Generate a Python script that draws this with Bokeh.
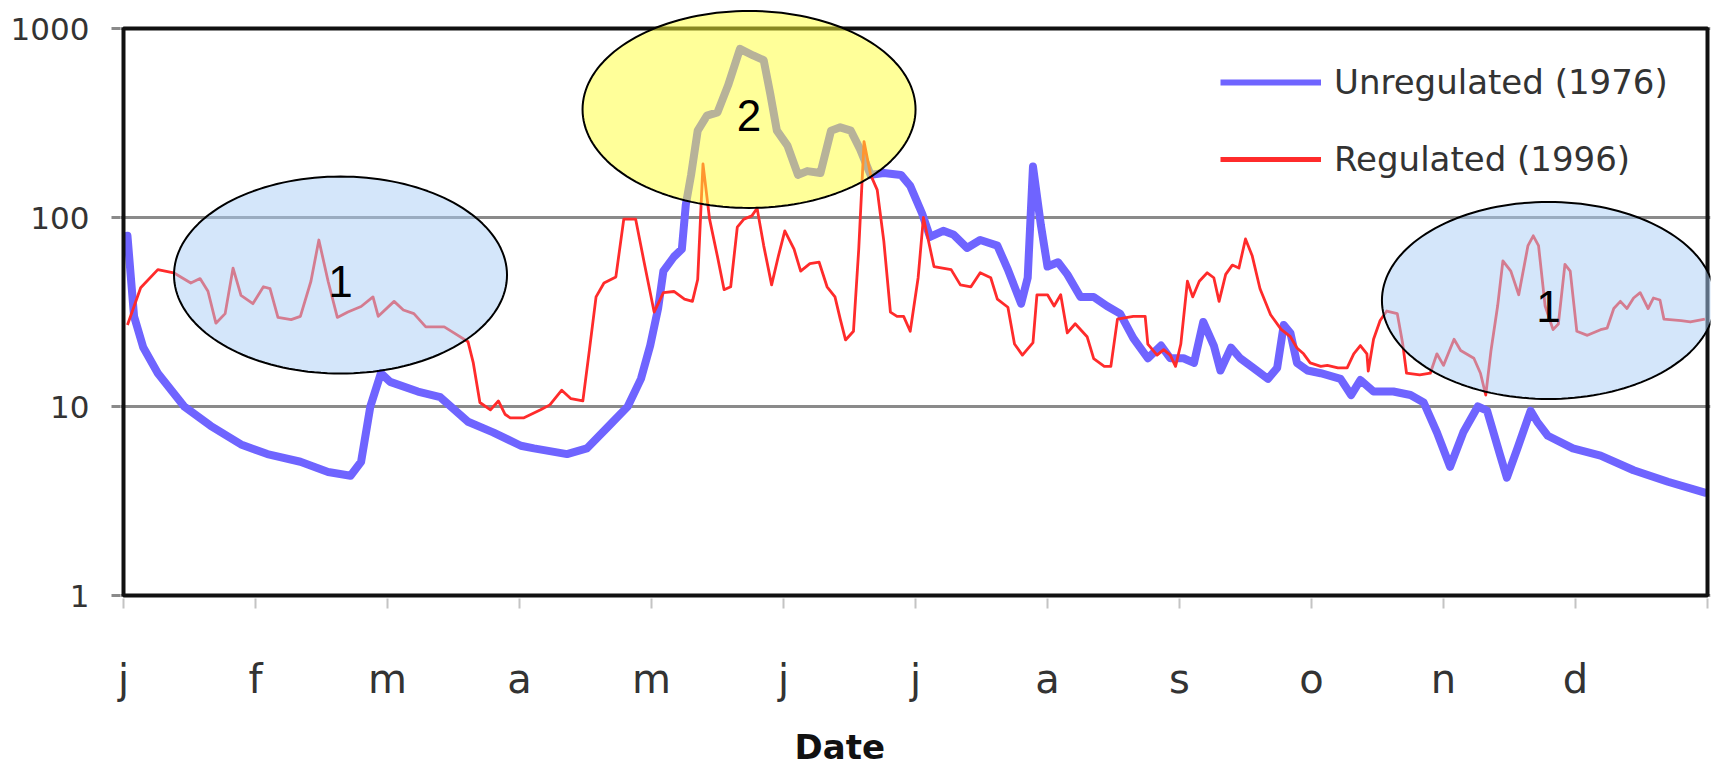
import math
from bokeh.plotting import figure
from bokeh.models import (Range1d, FixedTicker, PrintfTickFormatter, Legend, LegendItem,
                          PolyAnnotation, BoxAnnotation, Label, Title, LinearAxis)
from bokeh.embed import file_html
from bokeh.resources import INLINE

# ---------------- data ----------------
MONTH_LABELS = ["j", "f", "m", "a", "m", "j", "j", "a", "s", "o", "n", "d"]
Y_TICKS = [1, 10, 100, 1000]

# time in months since 1 January, discharge values
UNREG_T = [0.03, 0.08, 0.15, 0.26, 0.46, 0.66, 0.89, 1.09, 1.34, 1.55, 1.72, 1.80, 1.87, 1.95,
           2.02, 2.23, 2.40, 2.61, 2.80, 3.01, 3.11, 3.36, 3.51, 3.67, 3.82, 3.92, 3.99, 4.05,
           4.09, 4.17, 4.23, 4.26, 4.30, 4.35, 4.42, 4.50, 4.58, 4.67, 4.77, 4.85, 4.90, 4.95,
           5.03, 5.11, 5.18, 5.28, 5.36, 5.43, 5.51, 5.58, 5.66, 5.76, 5.89, 5.96, 6.05, 6.11,
           6.21, 6.29, 6.39, 6.49, 6.62, 6.70, 6.80, 6.85, 6.89, 6.95, 7.00, 7.08, 7.15, 7.25,
           7.35, 7.45, 7.55, 7.65, 7.76, 7.86, 7.93, 8.03, 8.11, 8.18, 8.26, 8.31, 8.39, 8.46,
           8.56, 8.67, 8.74, 8.79, 8.84, 8.89, 8.97, 9.07, 9.22, 9.30, 9.37, 9.47, 9.62, 9.75,
           9.85, 9.95, 10.05, 10.15, 10.26, 10.33, 10.43, 10.48, 10.56, 10.66, 10.71, 10.79,
           10.98, 11.19, 11.44, 11.70, 11.98]
UNREG_Q = [80, 30, 20.5, 15, 10, 7.9, 6.3, 5.6, 5.1, 4.5, 4.3, 5.1, 10, 15,
           13.5, 12, 11.2, 8.3, 7.3, 6.2, 6.0, 5.6, 6.0, 7.8, 10, 14, 21, 33,
           52, 62, 68, 117, 168, 288, 346, 360, 500, 780, 720, 680, 450, 288,
           240, 168, 176, 172, 288, 300, 288, 230, 168, 172, 168, 147, 105, 79,
           85, 81, 69, 76, 71, 53, 35, 48, 186, 91, 55, 58, 50, 38,
           38, 34, 31, 23, 18, 21, 18, 18, 17, 28, 21, 15.5, 20.5, 18,
           16, 14, 16, 27, 24.5, 17, 15.5, 15, 14, 11.5, 13.8, 12, 12, 11.5,
           10.5, 7.3, 4.8, 7.3, 10, 9.5, 5.5, 4.2, 6, 9.5, 8.3, 7,
           6, 5.5, 4.6, 4.0, 3.5]

REG_T = [0.03, 0.05, 0.13, 0.26, 0.38, 0.51, 0.58, 0.64, 0.70, 0.77, 0.83, 0.89, 0.98, 1.06,
         1.11, 1.17, 1.27, 1.34, 1.42, 1.48, 1.55, 1.62, 1.70, 1.80, 1.89, 1.93, 2.05, 2.12,
         2.20, 2.29, 2.43, 2.50, 2.61, 2.65, 2.70, 2.78, 2.84, 2.89, 2.93, 3.03, 3.16, 3.23,
         3.32, 3.39, 3.48, 3.53, 3.58, 3.64, 3.73, 3.79, 3.88, 3.94, 4.02, 4.09, 4.17, 4.25,
         4.31, 4.35, 4.39, 4.44, 4.50, 4.55, 4.60, 4.65, 4.70, 4.76, 4.80, 4.85, 4.91, 4.96,
         5.01, 5.08, 5.13, 5.20, 5.27, 5.33, 5.39, 5.43, 5.47, 5.53, 5.57, 5.61, 5.66, 5.71,
         5.76, 5.81, 5.86, 5.91, 5.96, 6.02, 6.06, 6.11, 6.14, 6.27, 6.34, 6.42, 6.49, 6.57,
         6.62, 6.70, 6.75, 6.81, 6.89, 6.92, 7.00, 7.05, 7.10, 7.15, 7.21, 7.30, 7.35, 7.43,
         7.48, 7.53, 7.65, 7.74, 7.76, 7.83, 7.88, 7.93, 7.97, 8.01, 8.06, 8.10, 8.15, 8.21,
         8.26, 8.30, 8.35, 8.40, 8.45, 8.50, 8.55, 8.61, 8.69, 8.77, 8.84, 8.89, 8.94, 8.99,
         9.07, 9.12, 9.20, 9.27, 9.32, 9.37, 9.42, 9.43, 9.47, 9.52, 9.57, 9.65, 9.69, 9.72,
         9.82, 9.90, 9.95, 10.00, 10.08, 10.13, 10.23, 10.28, 10.32, 10.36, 10.41, 10.45, 10.51,
         10.57, 10.64, 10.68, 10.72, 10.77, 10.83, 10.87, 10.92, 10.96, 11.01, 11.09, 11.19,
         11.24, 11.29, 11.34, 11.39, 11.44, 11.49, 11.55, 11.59, 11.64, 11.67, 11.80, 11.87, 11.98]
REG_Q = [27, 29.6, 42.5, 53, 51, 45, 47.5, 40.7, 27.6, 31, 54, 38.7, 35, 43,
         42, 29.6, 28.8, 30, 46, 76, 46, 29.6, 31.6, 33.8, 38, 30, 36, 32.4,
         31, 26.4, 26.4, 24.6, 22, 17, 10.5, 9.6, 10.7, 9.1, 8.7, 8.7, 9.6, 10.2,
         12.2, 11, 10.7, 20, 38, 45, 48.5, 98, 98, 60, 31.6, 40, 40.6, 37,
         36, 47, 192, 98, 62, 41.5, 43, 89, 98, 102, 112, 71, 44, 62,
         85, 68, 52, 57, 58, 43, 38, 29, 22.5, 25, 68, 252, 168, 140,
         75, 31.6, 30, 30, 25, 48, 100, 69, 55, 53, 44, 43, 51, 48,
         37, 33.5, 21.4, 18.7, 21.8, 39, 39, 34, 39, 24.5, 27.4, 23.4, 17.9, 16.3,
         16.3, 29, 30, 30, 21.4, 18.7, 20, 18.7, 16.3, 21.4, 46, 38, 46, 51,
         48, 36, 50, 56, 54, 77, 63, 42, 30.6, 25.6, 23.4, 20.4, 19, 17,
         16.3, 16.5, 16, 16, 19, 21, 19, 15.4, 22.7, 28.5, 32, 31, 21.7, 15,
         14.7, 15, 19, 16.5, 22.7, 19.8, 18, 15, 11.5, 19.8, 34, 59, 52,
         39, 71, 80, 71, 34, 25.5, 27.3, 56.5, 52, 25, 23.8, 25.5,
         26, 33, 36, 33, 37.5, 40, 33, 37.5, 36.6, 29, 28.5, 28, 29]

SERIES_NAMES = ["Unregulated (1976)", "Regulated (1996)"]
AXIS_TITLE = "Date"

# highlighted zones: (centre month, centre value, label, fill)
ZONES = [(1.644, 49.6, "1", "#a9cdf5"),
         (4.739, 373.0, "2", "#ffff33"),
         (10.795, 36.4, "1", "#a9cdf5")]

# ---------------- layout ----------------
W, H = 1712, 766
PX_PER_MONTH = 132.0
PX_PER_DECADE = 189.0
PAD_L, PAD_R, PAD_B, PAD_T = 3, 3, 3, 20      # frame slack around the drawn box
ML, MR, MT, MB = 120, 2, 8, 168

BLUE = "#6f64ff"
RED = "#ff2b2b"
TXT = "#333333"

x_range = Range1d(-PAD_L / PX_PER_MONTH, 12 + PAD_R / PX_PER_MONTH)
y_range = Range1d(10 ** (-PAD_B / PX_PER_DECADE), 1000 * 10 ** (PAD_T / PX_PER_DECADE))

p = figure(width=W, height=H, x_range=x_range, y_range=y_range,
           y_axis_type="log", output_backend="svg", toolbar_location=None,
           min_border_left=ML, min_border_right=MR, min_border_top=MT, min_border_bottom=MB)
p.background_fill_color = "white"
p.border_fill_color = "white"
p.outline_line_color = None

p.xgrid.visible = False
p.ygrid.grid_line_color = "#8a8a8a"
p.ygrid.grid_line_width = 3

# y axis
p.yaxis.ticker = FixedTicker(ticks=Y_TICKS, minor_ticks=[])
p.yaxis.formatter = PrintfTickFormatter(format="%d")
p.yaxis.axis_line_color = None
p.yaxis.major_tick_line_color = "#8a8a8a"
p.yaxis.major_tick_line_width = 3
p.yaxis.major_tick_out = 9
p.yaxis.major_tick_in = 0
p.yaxis.minor_tick_line_color = None
p.yaxis.major_label_text_font = "DejaVu Sans"
p.yaxis.major_label_text_font_size = "31px"
p.yaxis.major_label_text_color = TXT
p.yaxis.major_label_standoff = 22

# x axis
p.xaxis.ticker = FixedTicker(ticks=list(range(13)), minor_ticks=[])
overrides = {i: lab for i, lab in enumerate(MONTH_LABELS)}
overrides[12] = ""
p.xaxis.major_label_overrides = overrides
p.xaxis.axis_line_color = None
p.xaxis.major_tick_line_color = "#c4c4c4"
p.xaxis.major_tick_line_width = 2
p.xaxis.major_tick_out = 10
p.xaxis.major_tick_in = 0
p.xaxis.minor_tick_line_color = None
p.xaxis.major_label_text_font = "DejaVu Sans"
p.xaxis.major_label_text_font_size = "40px"
p.xaxis.major_label_text_color = TXT
p.xaxis.major_label_standoff = 47

# blank spacer band (white tick on white, no label) between month labels and axis title
spacer = LinearAxis(ticker=FixedTicker(ticks=[6], minor_ticks=[]), axis_line_color=None,
                    major_tick_line_color="white", minor_tick_line_color=None,
                    major_tick_out=20, major_tick_in=0, major_label_standoff=0,
                    major_label_text_font_size="1px", major_label_text_color="white",
                    major_label_overrides={6: ""})
p.add_layout(spacer, "below")

p.add_layout(Title(text=AXIS_TITLE, align="left", offset=674, standoff=0,
                   vertical_align="bottom",
                   text_font="DejaVu Sans", text_font_style="bold",
                   text_font_size="34px", text_color="#111111"), "below")

# series
r_un = p.line(UNREG_T, UNREG_Q, line_color=BLUE, line_width=8,
              line_join="round", line_cap="round")
r_re = p.line(REG_T, REG_Q, line_color=RED, line_width=2.8, line_join="round")

# plot box
p.add_layout(BoxAnnotation(left=0, right=12, bottom=1, top=1000, fill_color=None,
                           fill_alpha=0, line_color="#111111", line_alpha=1, line_width=4))

# highlighted zones (semi-transparent ellipses)
ZONE_W, ZONE_H = 333, 197
for cx, cv, lab, col in ZONES:
    xs, ys = [], []
    n = 160
    for k in range(n):
        t = 2 * math.pi * k / n
        xs.append(cx + (ZONE_W / 2) * math.cos(t) / PX_PER_MONTH)
        ys.append(10 ** (math.log10(cv) + (ZONE_H / 2) * math.sin(t) / PX_PER_DECADE))
    p.add_layout(PolyAnnotation(xs=xs, ys=ys, fill_color=col, fill_alpha=0.5,
                                line_color="black", line_alpha=1, line_width=2))
    p.add_layout(Label(x=cx, y=10 ** (math.log10(cv) - 6 / PX_PER_DECADE), text=lab,
                       text_align="center", text_baseline="middle",
                       text_font="Liberation Sans", text_font_size="44px",
                       text_color="black"))

# legend (own sample strokes; the renderers carry no visible data)
NAN = float("nan")
lg_un = p.line([NAN], [NAN], line_color=BLUE, line_width=6)
lg_re = p.line([NAN], [NAN], line_color=RED, line_width=5)
legend = Legend(items=[LegendItem(label=SERIES_NAMES[0], renderers=[lg_un]),
                       LegendItem(label=SERIES_NAMES[1], renderers=[lg_re])],
                location=(1100, 419), border_line_color=None, background_fill_alpha=0,
                label_text_font="DejaVu Sans", label_text_font_size="34px",
                label_text_color=TXT, glyph_width=101, glyph_height=40, label_height=40,
                label_standoff=13, spacing=37, padding=10, margin=0)
p.add_layout(legend)

open("out.html", "w").write(file_html(p, INLINE))
